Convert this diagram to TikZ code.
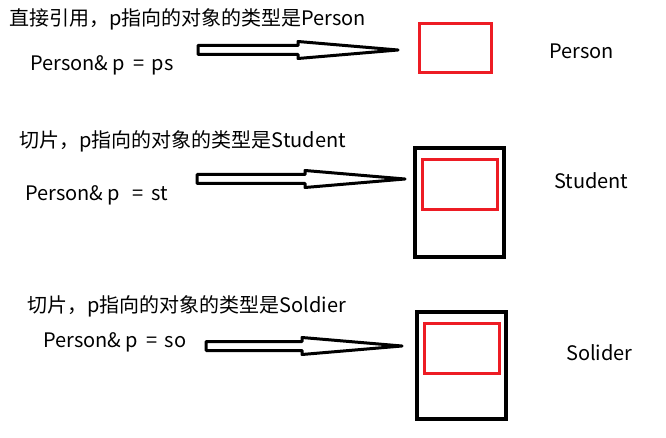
\documentclass[tikz,border=0pt]{standalone}
\usepackage{fontspec}
\setmainfont{Noto Sans CJK SC}
\usetikzlibrary{calc}
\definecolor{boxred}{RGB}{237,28,36}

% hollow arrow from tail #1 to tip #2 (horizontal)
\newcommand\hollowarrow[2]{%
  \draw[arrowline] ($(#1)+(0,-4.5)$) -- ($(#2)+(-100,-4.5)$) -- ($(#2)+(-100,-8.5)$)
    -- (#2) -- ($(#2)+(-100,8.5)$) -- ($(#2)+(-100,4.5)$) -- ($(#1)+(0,4.5)$) -- cycle;}

\tikzset{
  txt/.style={anchor=west, inner sep=0pt, font=\fontsize{20}{24}\selectfont},
  arrowline/.style={draw, line width=3pt, line join=round},
  redbox/.style={draw=boxred, line width=3pt, inner sep=0pt},
  objbox/.style={draw, line width=3.5pt, inner sep=0pt}
}

\begin{document}
\begin{tikzpicture}[x=1pt,y=-1pt]
  \useasboundingbox (0,0) rectangle (666,438);

  % direct reference
  \node[txt] (title1) at (9,19) {直接引用，p指向的对象的类型是Person};
  \node[txt] (code1) at (30,65) {Person\& p \,=\, ps};
  \node[redbox, minimum width=72, minimum height=49] (ps) at (455,48.5) {};
  \node[txt] (name1) at (549,51) {Person};
  \coordinate (t1) at (198,50);
  \coordinate (h1) at (398,50);
  \hollowarrow{t1}{h1}

  % slicing, Student
  \node[txt] (title2) at (19,141) {切片，p指向的对象的类型是Student};
  \node[txt] (code2) at (25,195) {Person\& p \ \,=\, st};
  \node[objbox, minimum width=89, minimum height=109] (st) at (459.5,202.5) {};
  \node[redbox, minimum width=75, minimum height=50] (stbase) at (459.5,185) {};
  \node[txt] (name2) at (554,181) {Student};
  \coordinate (t2) at (197,179);
  \coordinate (h2) at (405,179);
  \hollowarrow{t2}{h2}

  % slicing, Soldier
  \node[txt] (title3) at (27,306) {切片，p指向的对象的类型是Soldier};
  \node[txt] (code3) at (43,342) {Person\& p \,=\, so};
  \node[objbox, minimum width=89, minimum height=107] (so) at (461.5,365.5) {};
  \node[redbox, minimum width=75, minimum height=50] (sobase) at (461.5,348) {};
  \node[txt] (name3) at (566,353) {Solider};
  \coordinate (t3) at (206,346);
  \coordinate (h3) at (402,346);
  \hollowarrow{t3}{h3}
\end{tikzpicture}
\end{document}
